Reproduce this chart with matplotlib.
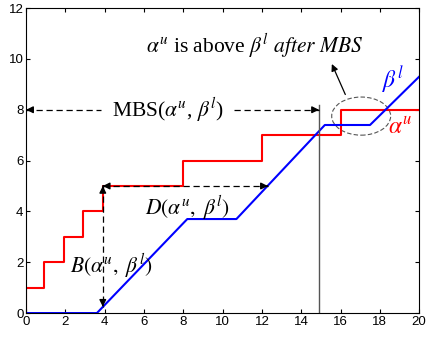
import matplotlib
matplotlib.use("Agg")
import matplotlib.pyplot as plt
from matplotlib.patches import Ellipse

plt.rcParams["mathtext.fontset"] = "stix"
plt.rcParams["font.family"] = ["Liberation Sans", "DejaVu Sans"]

# alpha^u: red staircase (arrival curve)
alpha_x = [0, 0, 0.9, 1.9, 2.9, 3.9, 8, 12, 16, 20]
alpha_y = [0, 1, 2, 3, 4, 5, 6, 7, 8, 8]

# beta^l: blue piecewise-linear service curve
beta_x = [0, 3.6, 8.2, 10.7, 15.2, 17.5, 20]
beta_y = [0, 0, 3.7, 3.7, 7.4, 7.4, 9.3]

mbs_x = 14.9
mbs_y = 8
b_x = 3.9
b_top, b_bottom = 5, 0.25
d_y = 5
d_left, d_right = 3.9, 12.3

x_ticks = list(range(0, 21, 2))
y_ticks = list(range(0, 13, 2))

fig = plt.figure(figsize=(4.29, 3.37), dpi=100)
ax = fig.add_axes([0.061, 0.071, 0.916, 0.905])

ax.plot(alpha_x, alpha_y, color="red", linewidth=1.5, drawstyle="steps-post")
ax.plot(beta_x, beta_y, color="blue", linewidth=1.5)
ax.plot([mbs_x, mbs_x], [0, 8.2], color="#555555", linewidth=1.0)

serif = ["Liberation Serif", "DejaVu Serif"]
head = dict(arrowstyle="-|>", color="black", lw=1.0, mutation_scale=10)


def dashed_arrow(x0, y0, x1, y1, heads):
    ax.plot([x0, x1], [y0, y1], color="black", linestyle=(0, (5, 3)), linewidth=0.9)
    dx, dy = (x1 - x0) * 0.02, (y1 - y0) * 0.02
    if "end" in heads:
        ax.annotate("", xy=(x1, y1), xytext=(x1 - dx, y1 - dy), arrowprops=head)
    if "start" in heads:
        ax.annotate("", xy=(x0, y0), xytext=(x0 + dx, y0 + dy), arrowprops=head)


# MBS arrows on either side of the label
dashed_arrow(0, mbs_y, 3.8, mbs_y, ["start"])
dashed_arrow(10.6, mbs_y, mbs_x, mbs_y, ["end"])
ax.text(7.2, mbs_y, r"MBS($\alpha^u$, $\beta^l$)", fontsize=15.5, family=serif,
        ha="center", va="center")

# D arrow
dashed_arrow(d_left, d_y, d_right, d_y, ["start", "end"])
ax.text(8.2, 4.15, r"$D(\alpha^u,\ \beta^l)$", fontsize=15.5, ha="center", va="center")

# B arrow
dashed_arrow(b_x, b_top, b_x, b_bottom, ["start", "end"])
ax.text(4.35, 1.85, r"$B(\alpha^u,\ \beta^l)$", fontsize=15.5, ha="center", va="center")

# ellipse + note
ax.add_patch(Ellipse((17.05, 7.75), 3.0, 1.5, fill=False, edgecolor="#555555",
                     linestyle=(0, (4, 2)), linewidth=0.8))
ax.annotate("", xy=(15.5, 9.9), xytext=(16.3, 8.5),
            arrowprops=dict(arrowstyle="-|>", color="black", lw=0.9, mutation_scale=10))
ax.text(11.65, 10.5, r"$\alpha^u$ is above $\beta^l$ $after$ $MBS$", fontsize=15.5,
        family=serif, ha="center", va="center")

ax.text(18.7, 9.2, r"$\beta^l$", color="blue", fontsize=17, ha="center", va="center")
ax.text(19.05, 7.3, r"$\alpha^u$", color="red", fontsize=17, ha="center", va="center")

ax.set_xlim(0, 20)
ax.set_ylim(0, 12)
ax.set_xticks(x_ticks)
ax.set_yticks(y_ticks)
ax.tick_params(direction="in", top=True, right=True, labelsize=9.5, length=3, pad=2)

fig.savefig("out.png", dpi=100)
